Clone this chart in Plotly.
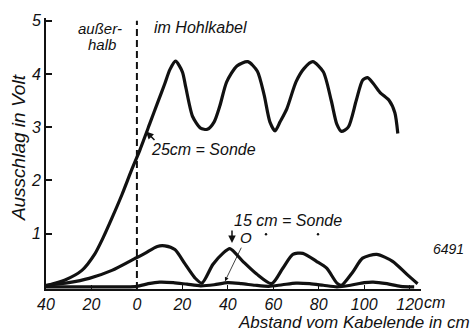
import plotly.graph_objects as go

# --- data (cm from cable end, volts) ---
x_25cm = [-40, -31.6, -24.2, -18.5, -14.9, -11, -6.6, -2.2, 1.3, 5.7, 9.2, 12.3, 14.5, 17, 20,
          21.5, 24.5, 28, 31, 34, 36.5, 39.5, 44, 48.8, 53, 56, 58.5, 60.8, 63, 66, 70, 73.5,
          77.4, 82, 85.5, 88, 90, 93, 96.5, 99.3, 101.5, 104, 107, 111, 113.5, 114.8]
v_25cm = [0.02, 0.13, 0.31, 0.62, 0.92, 1.29, 1.73, 2.21, 2.57, 3.07, 3.47, 3.82, 4.08, 4.24, 4.04,
          3.75, 3.2, 2.98, 2.96, 3.1, 3.4, 3.85, 4.15, 4.23, 4.05, 3.6, 3.1, 2.93, 3.1, 3.35, 3.85,
          4.1, 4.23, 4.04, 3.5, 3.05, 2.92, 3.0, 3.5, 3.88, 3.93, 3.82, 3.65, 3.5, 3.27, 2.88]

x_15cm = [-40, -30, -21, -11, -1, 3.5, 9, 12.3, 16.7, 21, 25.5, 28.6, 33.4, 37.8, 40.9, 46.6,
          52.7, 59.3, 64.2, 68.6, 73, 79, 83.5, 88, 90, 95, 99.3, 105.5, 112.5, 118.7, 123.5]
v_15cm = [0.03, 0.08, 0.16, 0.31, 0.53, 0.63, 0.76, 0.77, 0.7, 0.44, 0.17, 0.07, 0.42, 0.63, 0.72,
          0.48, 0.24, 0.06, 0.35, 0.61, 0.63, 0.48, 0.35, 0.07, 0.03, 0.28, 0.54, 0.61, 0.48, 0.24,
          0.06]

x_0 = [-40, -20, -5, 0, 5, 10, 16, 22, 28, 34, 40, 46, 52, 58, 64, 70, 76, 82, 88, 94, 100, 104,
       110, 116, 122]
v_0 = [0.0, 0.0, 0.0, 0.01, 0.06, 0.09, 0.08, 0.05, 0.02, 0.04, 0.08, 0.06, 0.03, 0.01, 0.04,
       0.07, 0.06, 0.03, 0.0, 0.03, 0.08, 0.09, 0.06, 0.01, 0.0]

x_tickvals = [-40, -20, 0, 20, 40, 60, 80, 100, 120]
x_ticktext = ["40", "20", "0", "20", "40", "60", "80", "100", "120"]
y_tickvals = [1, 2, 3, 4, 5]

FONT = "Liberation Sans"
INK = "#111111"

fig = go.Figure()
for xs, vs in [(x_25cm, v_25cm), (x_15cm, v_15cm), (x_0, v_0)]:
    fig.add_trace(go.Scatter(x=xs, y=vs, mode="lines",
                             line=dict(color=INK, width=3.2, shape="spline", smoothing=0.7),
                             hoverinfo="skip", showlegend=False))

L, R, T, B = 46, 50, 12, 44
W, H = 471, 333
PW, PH = W - L - R, H - T - B


def pp(px, py):
    return (px - L) / PW, (H - B - py) / PH


def txt(px, py, s, size=13, xanchor="center", angle=0):
    xp, yp = pp(px, py)
    fig.add_annotation(x=xp, y=yp, xref="paper", yref="paper", text=s, showarrow=False,
                       xanchor=xanchor, yanchor="middle", textangle=angle,
                       font=dict(family=FONT, size=size, color=INK, style="italic"))


def arrow(px0, py0, px1, py1, width=1.2, head=2):
    x1, y1 = pp(px1, py1)
    fig.add_annotation(x=x1, y=y1, ax=px0 - px1, ay=py0 - py1, xref="paper", yref="paper",
                       axref="pixel", ayref="pixel", text="", showarrow=True,
                       arrowhead=head, arrowsize=1, arrowwidth=width, arrowcolor=INK)


def dot(px, py, r=1.2):
    x0, y0 = pp(px - r, py + r)
    x1, y1 = pp(px + r, py - r)
    fig.add_shape(type="circle", xref="paper", yref="paper", x0=x0, y0=y0, x1=x1, y1=y1,
                  fillcolor=INK, line=dict(width=0))


txt(100, 23, "außer-", 15)
txt(102, 39, "halb", 15)
txt(152, 22, "im Hohlkabel", 16, xanchor="left")
txt(149, 146, "25cm = Sonde", 16, xanchor="left")
arrow(156, 138, 146, 128, width=1.5)
txt(232, 219, "15 cm = Sonde", 16, xanchor="left")
txt(246, 236, "O", 15)
arrow(232, 228, 232, 242, width=1.5)
arrow(242, 246, 225, 281, width=0.8)
dot(266, 233)
dot(318, 233)
txt(448, 248, "6491", 14)
txt(422, 303, "cm", 16, xanchor="left")
txt(236, 323, "Abstand vom Kabelende in cm", 17, xanchor="left")
txt(18, 145, "Ausschlag in Volt", 19, angle=-90)

fig.add_shape(type="line", x0=0, x1=0, xref="x", yref="paper", y0=0.0, y1=0.99,
              line=dict(color=INK, width=2, dash="7px,4px"))

fig.update_layout(
    width=W, height=H, margin=dict(l=L, r=R, t=T, b=B),
    paper_bgcolor="white", plot_bgcolor="white",
    font=dict(family=FONT, color=INK, style="italic"),
    xaxis=dict(range=[-40, 125], tickvals=x_tickvals, ticktext=x_ticktext,
               showline=True, linecolor=INK, linewidth=2, ticks="inside", ticklen=4,
               tickwidth=1.2, tickcolor=INK, showgrid=False, zeroline=False,
               tickfont=dict(family=FONT, size=16, color=INK, style="italic")),
    yaxis=dict(range=[-0.04, 5.05], tickvals=y_tickvals, showline=True, linecolor=INK,
               linewidth=2, ticks="inside", ticklen=6, tickwidth=1.5, tickcolor=INK,
               showgrid=False, zeroline=False,
               tickfont=dict(family=FONT, size=16, color=INK, style="italic")),
)

fig.write_html("out.html")
